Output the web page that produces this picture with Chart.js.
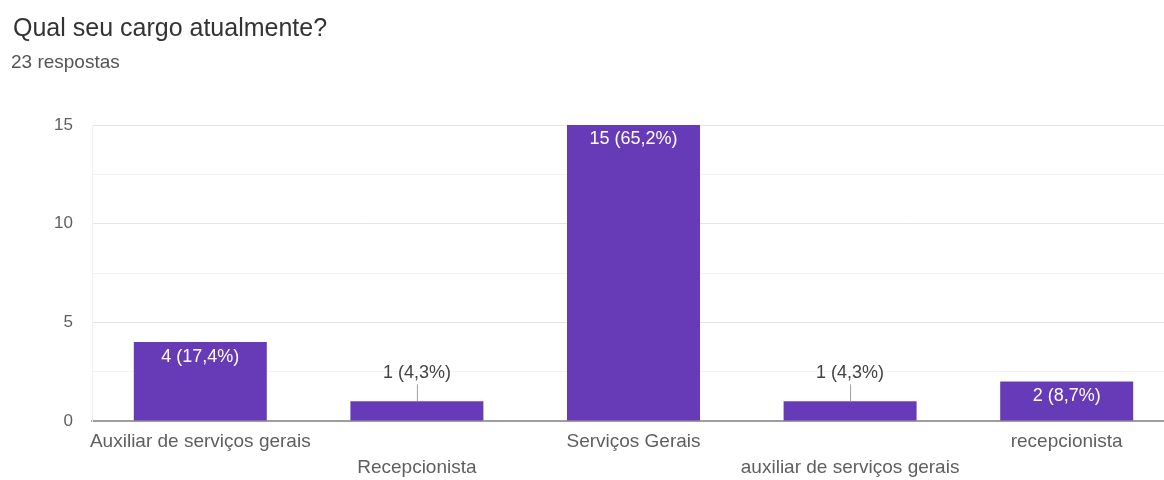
<!DOCTYPE html>
<html>
<head>
<meta charset="utf-8">
<script src="https://cdn.jsdelivr.net/npm/chart.js@4/dist/chart.umd.min.js"></script>
<style>
  body { margin: 0; background: #fff; font-family: "Liberation Sans", Arial, sans-serif; }
  #wrap { position: relative; width: 1164px; height: 480px; overflow: hidden; }
  #title { position: absolute; left: 13px; top: 15px; font-size: 25px; line-height: 24px; color: #333; white-space: nowrap; }
  #sub { position: absolute; left: 11px; top: 53px; font-size: 19px; line-height: 18px; color: #555; white-space: nowrap; }
  canvas { position: absolute; left: 0; top: 0; }
</style>
</head>
<body>
<div id="wrap">
  <canvas id="chart" width="1175" height="480"></canvas>
  <div id="title">Qual seu cargo atualmente?</div>
  <div id="sub">23 respostas</div>
</div>
<script>
const categories = ['Auxiliar de serviços gerais', 'Recepcionista', 'Serviços Gerais', 'auxiliar de serviços gerais', 'recepcionista'];
const counts = [4, 1, 15, 1, 2];
const yTicks = [0, 5, 10, 15];
const totalAnswers = 23;

const purple = '#673ab7';
const fontFamily = '"Liberation Sans", Arial, sans-serif';

// value labels: inside the bar when it is tall enough, otherwise above with a small leader line
const valueLabels = {
  id: 'valueLabels',
  afterDatasetsDraw(chart) {
    const ctx = chart.ctx;
    const meta = chart.getDatasetMeta(0);
    ctx.save();
    ctx.font = '18px ' + fontFamily;
    ctx.textAlign = 'center';
    ctx.textBaseline = 'middle';
    meta.data.forEach(function(bar, i) {
      const v = counts[i];
      const pct = (v / totalAnswers * 100).toFixed(1).replace('.', ',');
      const text = v + ' (' + pct + '%)';
      const h = bar.base - bar.y;
      if (h >= 30) {
        ctx.fillStyle = '#ffffff';
        ctx.fillText(text, bar.x, bar.y + 14.5);
      } else {
        ctx.strokeStyle = '#9e9e9e';
        ctx.lineWidth = 1;
        ctx.beginPath();
        ctx.moveTo(bar.x + 0.5, bar.y - 17);
        ctx.lineTo(bar.x + 0.5, bar.y);
        ctx.stroke();
        ctx.fillStyle = '#444';
        ctx.fillText(text, bar.x, bar.y - 28);
      }
    });
    ctx.restore();
  }
};

const ctx = document.getElementById('chart').getContext('2d');
new Chart(ctx, {
  type: 'bar',
  data: {
    labels: categories,
    datasets: [{
      data: counts,
      backgroundColor: purple,
      borderWidth: 0,
      categoryPercentage: 1,
      barPercentage: 0.614
    }]
  },
  options: {
    responsive: false,
    animation: false,
    devicePixelRatio: 1,
    layout: {padding: {top: 125, right: 0, bottom: 0, left: 0}},
    plugins: {legend: {display: false}, tooltip: {enabled: false}},
    scales: {
      x: {
        afterFit: function(scale) { scale.height = 59; },
        grid: {drawTicks: false, color: 'rgba(0,0,0,0)'},
        border: {display: true, color: '#9e9e9e', width: 2},
        ticks: {
          autoSkip: false,
          maxRotation: 0,
          minRotation: 0,
          padding: 8,
          color: '#5f5f5f',
          font: {family: fontFamily, size: 19, lineHeight: '26px'},
          // alternate labels drop to a second row
          callback: function(value, index) {
            return index % 2 === 1 ? ['', categories[index]] : categories[index];
          }
        }
      },
      y: {
        min: 0,
        max: 15,
        afterFit: function(scale) { scale.width = 92; },
        grid: {
          drawTicks: false,
          color: function(c) {
            const v = c.tick.value;
            if (v === 0) return 'rgba(0,0,0,0)';
            return yTicks.includes(v) ? '#e4e4e4' : '#f3f3f3';
          }
        },
        border: {display: true, color: '#ededed', width: 1},
        ticks: {
          stepSize: 2.5,
          padding: 19,
          color: '#5f5f5f',
          font: {family: fontFamily, size: 17},
          callback: function(value) { return yTicks.includes(value) ? value : ''; }
        }
      }
    }
  },
  plugins: [valueLabels]
});
</script>
</body>
</html>
